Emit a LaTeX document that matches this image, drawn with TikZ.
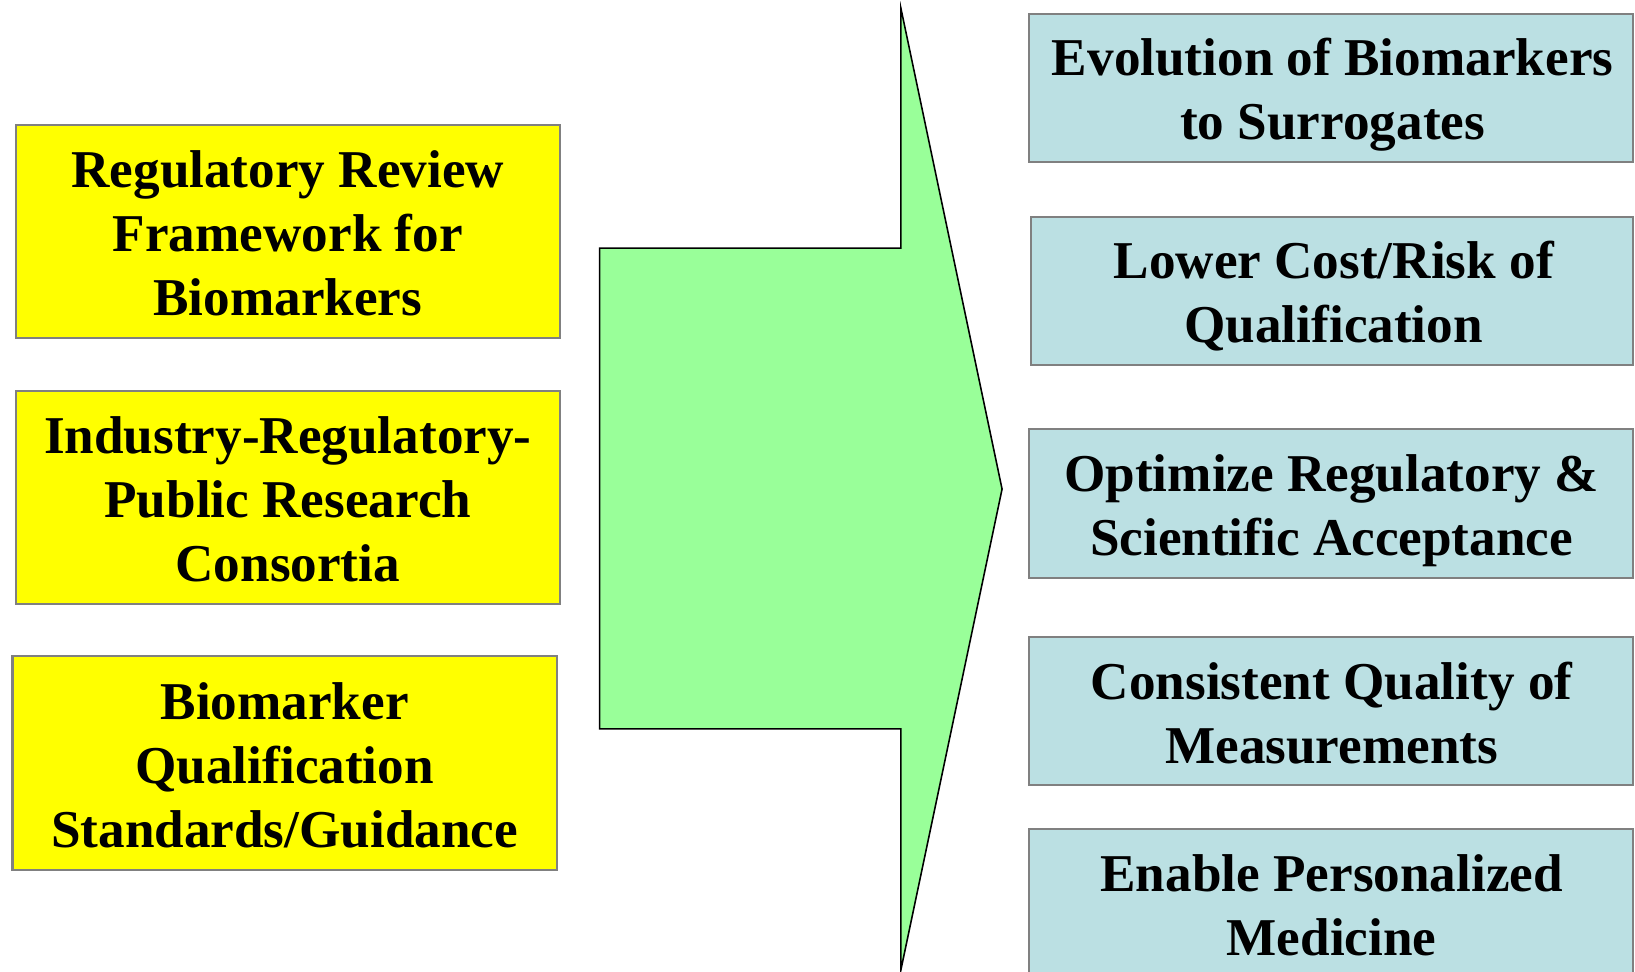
\documentclass[tikz,border=0pt]{standalone}
\usepackage{fontspec}
\setmainfont{Liberation Serif}
\definecolor{ybox}{HTML}{FFFF00}
\definecolor{bbox}{HTML}{BBE0E3}
\definecolor{garrow}{HTML}{99FF99}
\definecolor{gborder}{HTML}{808080}
\tikzset{
  lbl/.style={align=center, font=\fontsize{51}{61.5}\selectfont\bfseries, inner sep=0pt},
  ybx/.style={fill=ybox, draw=gborder, line width=2pt},
  bbx/.style={fill=bbox, draw=gborder, line width=2pt},
}
\begin{document}
\begin{tikzpicture}[x=1pt,y=-1pt]
\useasboundingbox (0,0) rectangle (1568,932);
% yellow boxes
\draw[ybx] (15,120) rectangle (537,324);
\node[lbl] (y1) at (276,224) {Regulatory Review\\Framework for\\Biomarkers};
\draw[ybx] (15,375) rectangle (537,579);
\node[lbl] (y2) at (276,479) {Industry-Regulatory-\\Public Research\\Consortia};
\draw[ybx] (12,629) rectangle (534,834);
\node[lbl] (y3) at (273,734) {Biomarker\\Qualification\\Standards/Guidance};
% arrow
\draw[fill=garrow, draw=black, line width=1.5pt, line join=miter]
  (575,238) coordinate (a1) -- (864,238) -- (864,8) -- (961,469) -- (864,930) -- (864,699) -- (575,699) -- cycle;
% blue boxes
\draw[bbx] (987,13) rectangle (1566,155);
\node[lbl] (b1) at (1278,91) {Evolution of Biomarkers\\to Surrogates};
\draw[bbx] (989,208) rectangle (1566,350);
\node[lbl] (b2) at (1279,284) {Lower Cost/Risk of\\Qualification};
\draw[bbx] (987,411) rectangle (1566,554);
\node[lbl] (b3) at (1277,490) {Optimize Regulatory \&\\Scientific Acceptance};
\draw[bbx] (987,611) rectangle (1566,753);
\node[lbl] (b4) at (1277,684) {Consistent Quality of\\Measurements};
\draw[bbx] (987,795) rectangle (1566,945);
\node[lbl] (b5) at (1277,868) {Enable Personalized\\Medicine};
\end{tikzpicture}
\end{document}
